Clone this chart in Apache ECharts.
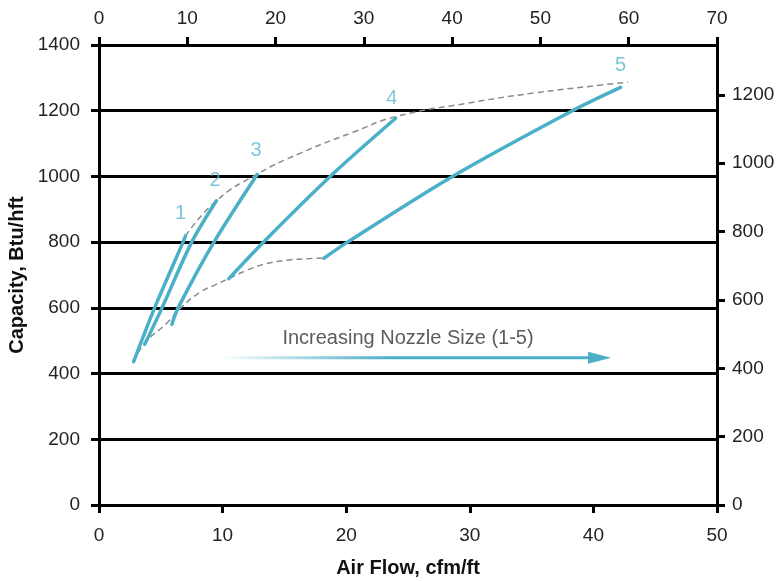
<!DOCTYPE html>
<html><head><meta charset="utf-8">
<script src="https://cdn.jsdelivr.net/npm/echarts@6/dist/echarts.min.js"></script>
<style>html,body{margin:0;padding:0;background:#fff}#c{width:776px;height:581px}</style>
</head><body><div id="c"></div>
<script>
// Nozzle curves: air flow (cfm/ft) vs capacity (Btu/hft)
const nozzle1Flow = [2.8, 4.5, 6.8, 7.0];
const nozzle1Cap  = [436, 600, 800, 819];
const nozzle2Flow = [3.7, 5.1, 7.5, 9.5];
const nozzle2Cap  = [489, 600, 800, 926];
const nozzle3Flow = [5.9, 6.4, 9.3, 12.8];
const nozzle3Cap  = [550, 600, 800, 1006];
const nozzle4Flow = [10.5, 13.3, 18.7, 24.0];
const nozzle4Cap  = [689, 800, 1000, 1177];
const nozzle5Flow = [18.2, 20.1, 28.6, 38.3, 42.2];
const nozzle5Cap  = [751, 800, 1000, 1200, 1271];
// Dashed envelopes
const upperFlow = [7.0, 9.5, 12.8, 16.3, 20.6, 24.0, 29.8, 35.2, 40.6, 42.8];
const upperCap  = [819, 926, 1007, 1071, 1135, 1182, 1223, 1254, 1278, 1287];
const lowerFlow = [2.8, 3.7, 5.5, 6.7, 8.2, 9.4, 10.6, 12.0, 13.6, 15.2, 17.1, 18.2];
const lowerCap  = [436, 493, 554, 603, 648, 670, 691, 715, 735, 745, 750, 751];
// Nozzle number labels
const nozzleNames = ['1', '2', '3', '4', '5'];
const labelFlow = [6.6, 9.4, 12.7, 23.7, 42.2];
const labelCap  = [888, 987, 1080, 1238, 1339];
// Annotation arrow
const arrowFlow = [9.8, 40.5];
const arrowCap  = [448, 448];
const noteText = 'Increasing Nozzle Size (1-5)';
const noteFlow = 25.0;
const noteCap = 507;
// Axes
const bottomTicks = [0, 50, 10];   // min, max, interval (cfm/ft)
const topTicks = [0, 70, 10];      // secondary flow scale
const leftTicks = [0, 1400, 200];  // Btu/hft
const rightMax = 1346;             // 1400 Btu/hft in W/m
const rightTicks = [0, 200, 400, 600, 800, 1000, 1200];

const zip = (a, b) => a.map((v, i) => [v, b[i]]);
const BLUE = '#4AAFC8';
const FONT = "'Liberation Sans', Arial, sans-serif";
const axisCommon = {
  axisLine: { show: true, onZero: false, lineStyle: { color: '#000', width: 3 } },
  axisTick: { show: true, length: 8, lineStyle: { color: '#000', width: 3 } },
  axisLabel: { color: '#222', fontSize: 19, fontFamily: FONT, formatter: v => String(v) },
  splitLine: { show: false }
};
const chart = echarts.init(document.getElementById('c'), null, { renderer: 'canvas' });
const solid = (f, c) => ({
  type: 'line', data: zip(f, c), symbol: 'none', smooth: 0.3, z: 4,
  lineStyle: { color: BLUE, width: 3.5, cap: 'round' }, silent: true
});
const dashed = (f, c) => ({
  type: 'line', data: zip(f, c), symbol: 'none', smooth: true, z: 3,
  lineStyle: { color: '#8a8a8a', width: 1.5, type: [6, 4] }, silent: true
});
chart.setOption({
  animation: false,
  backgroundColor: '#fff',
  grid: { left: 99, right: 59, top: 45, bottom: 76, outerBoundsMode: 'none', containLabel: false },
  xAxis: [
    Object.assign({}, axisCommon, {
      type: 'value', position: 'bottom', min: bottomTicks[0], max: bottomTicks[1], interval: bottomTicks[2],
      axisLabel: Object.assign({}, axisCommon.axisLabel, { margin: 21 }),
      name: 'Air Flow, cfm/ft', nameLocation: 'middle', nameGap: 53, nameMoveOverlap: false,
      nameTextStyle: { fontWeight: 'bold', fontSize: 20, color: '#111', fontFamily: FONT }
    }),
    Object.assign({}, axisCommon, {
      type: 'value', position: 'top', min: topTicks[0], max: topTicks[1], interval: topTicks[2],
      axisLabel: Object.assign({}, axisCommon.axisLabel, { margin: 17 })
    })
  ],
  yAxis: [
    Object.assign({}, axisCommon, {
      type: 'value', position: 'left', min: leftTicks[0], max: leftTicks[1], interval: leftTicks[2],
      axisLabel: Object.assign({}, axisCommon.axisLabel, { margin: 19 }),
      splitLine: { show: true, lineStyle: { color: '#000', width: 3 } },
      name: 'Capacity, Btu/hft', nameLocation: 'middle', nameGap: 72, nameMoveOverlap: false,
      nameTextStyle: { fontWeight: 'bold', fontSize: 20, color: '#111', fontFamily: FONT }
    }),
    Object.assign({}, axisCommon, {
      type: 'value', position: 'right', min: 0, max: rightMax,
      axisTick: Object.assign({}, axisCommon.axisTick, { customValues: rightTicks }),
      axisLabel: Object.assign({}, axisCommon.axisLabel, { margin: 15, customValues: rightTicks })
    })
  ],
  series: [
    solid(nozzle1Flow, nozzle1Cap),
    solid(nozzle2Flow, nozzle2Cap),
    solid(nozzle3Flow, nozzle3Cap),
    solid(nozzle4Flow, nozzle4Cap),
    solid(nozzle5Flow, nozzle5Cap),
    dashed(upperFlow, upperCap),
    dashed(lowerFlow, lowerCap),
    {
      type: 'scatter', symbolSize: 1, itemStyle: { color: 'rgba(0,0,0,0)' }, silent: true, z: 5,
      data: nozzleNames.map((n, i) => ({ name: n, value: [labelFlow[i], labelCap[i]] })),
      label: { show: true, position: 'inside', formatter: p => p.name, color: '#5BB8D0', fontSize: 20, fontFamily: FONT }
    },
    {
      type: 'line', symbol: 'none', silent: true, z: 5,
      lineStyle: {
        width: 3,
        color: new echarts.graphic.LinearGradient(0, 0, 1, 0, [
          { offset: 0, color: 'rgba(74,175,200,0)' },
          { offset: 0.45, color: 'rgba(74,175,200,1)' },
          { offset: 1, color: 'rgba(74,175,200,1)' }
        ])
      },
      data: [
        { value: [arrowFlow[0], arrowCap[0]] },
        { value: [arrowFlow[1], arrowCap[1]], symbol: 'triangle', symbolSize: [12, 23], symbolRotate: -90, itemStyle: { color: BLUE } }
      ]
    },
    {
      type: 'scatter', symbolSize: 1, itemStyle: { color: 'rgba(0,0,0,0)' }, silent: true, z: 5,
      data: [{ name: noteText, value: [noteFlow, noteCap] }],
      label: { show: true, position: 'inside', formatter: p => p.name, color: '#333', fontSize: 20, fontFamily: FONT }
    }
  ]
});
</script></body></html>
